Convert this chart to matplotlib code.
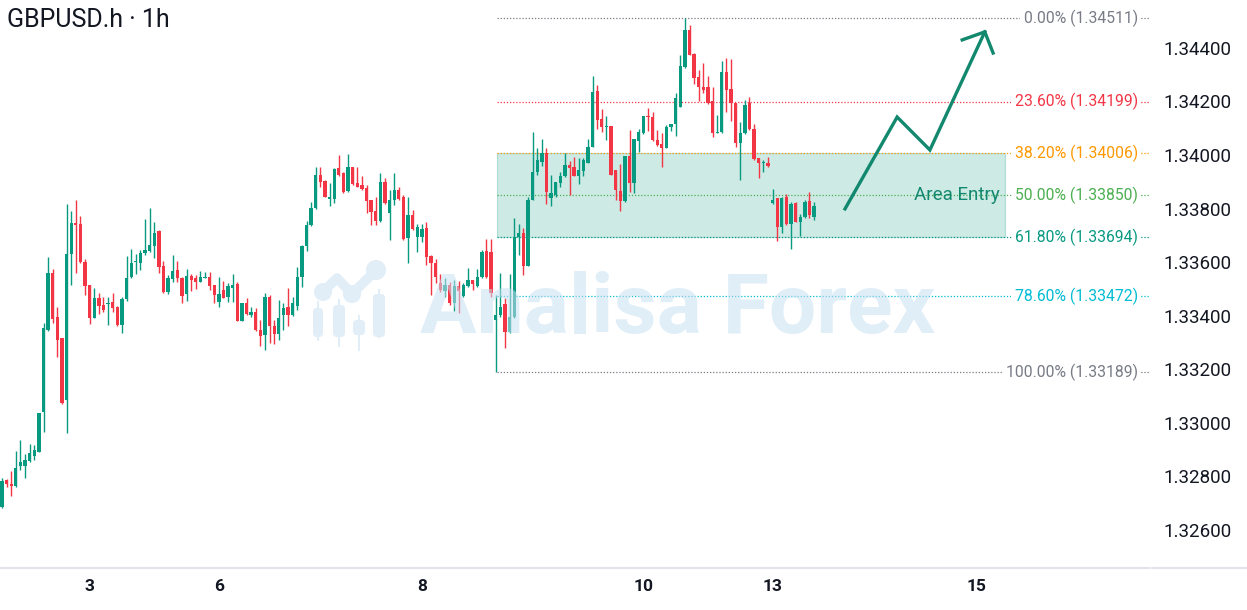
import matplotlib
matplotlib.use('Agg')
import matplotlib.pyplot as plt
import matplotlib.transforms as mtransforms
from matplotlib.patches import Rectangle, FancyBboxPatch, Circle
from matplotlib.lines import Line2D
import numpy as np

plt.rcParams['font.family'] = ['Roboto', 'DejaVu Sans']

# candles GBPUSD.h 1h
opens = [
    1.32685, 1.32785, 1.32770, 1.32763, 1.32838, 1.32838, 1.32856, 1.32875, 1.32893, 1.33040,
    1.33346, 1.33559, 1.33394, 1.33316, 1.33084, 1.33630, 1.33746, 1.33742, 1.33600, 1.33514,
    1.33391, 1.33465, 1.33439, 1.33443, 1.33450, 1.33432, 1.33364, 1.33462, 1.33544, 1.33600,
    1.33596, 1.33634, 1.33641, 1.33660, 1.33716, 1.33585, 1.33488, 1.33536, 1.33570, 1.33540,
    1.33480, 1.33548, 1.33540, 1.33525, 1.33540, 1.33544, 1.33514, 1.33450, 1.33495, 1.33469,
    1.33503, 1.33518, 1.33379, 1.33447, 1.33402, 1.33413, 1.33346, 1.33327, 1.33469, 1.33361,
    1.33331, 1.33402, 1.33432, 1.33402, 1.33435, 1.33544, 1.33660, 1.33738, 1.33802, 1.33925,
    1.33902, 1.33835, 1.33835, 1.33951, 1.33932, 1.33865, 1.33955, 1.33895, 1.33887, 1.33876,
    1.33832, 1.33790, 1.33753, 1.33899, 1.33783, 1.33832, 1.33869, 1.33843, 1.33690, 1.33775,
    1.33693, 1.33693, 1.33727, 1.33622, 1.33596, 1.33521, 1.33491, 1.33514, 1.33447, 1.33510,
    1.33473, 1.33510, 1.33533, 1.33510, 1.33544, 1.33641, 1.33637, 1.33383, 1.33402, 1.33443,
    1.33338, 1.33394, 1.33693, 1.33708, 1.33585, 1.33832, 1.33936, 1.33973, 1.34007, 1.33839,
    1.33850, 1.33895, 1.33921, 1.33962, 1.33955, 1.33921, 1.33940, 1.33970, 1.34029, 1.34239,
    1.34134, 1.34104, 1.34108, 1.33944, 1.33865, 1.33828, 1.33996, 1.33895, 1.34052, 1.34082,
    1.34145, 1.34142, 1.34056, 1.34041, 1.34026, 1.34104, 1.34116, 1.34179, 1.34329, 1.34467,
    1.34377, 1.34291, 1.34254, 1.34254, 1.34201, 1.34082, 1.34086, 1.34310, 1.34246, 1.34194,
    1.34044, 1.34082, 1.34194, 1.34097, 1.33988, 1.33970, 1.33970, 1.33820, 1.33839, 1.33731,
    1.33843, 1.33742, 1.33820, 1.33749, 1.33768, 1.33828, 1.33768,
]
highs = [
    1.32793, 1.32789, 1.32819, 1.32894, 1.32935, 1.32882, 1.32920, 1.32916, 1.33036, 1.33372,
    1.33619, 1.33574, 1.33432, 1.33316, 1.33817, 1.33791, 1.33832, 1.33772, 1.33611, 1.33514,
    1.33503, 1.33484, 1.33469, 1.33469, 1.33484, 1.33435, 1.33469, 1.33622, 1.33649, 1.33630,
    1.33645, 1.33761, 1.33802, 1.33749, 1.33720, 1.33604, 1.33551, 1.33626, 1.33604, 1.33544,
    1.33574, 1.33555, 1.33551, 1.33566, 1.33563, 1.33563, 1.33514, 1.33544, 1.33529, 1.33521,
    1.33555, 1.33525, 1.33447, 1.33465, 1.33432, 1.33428, 1.33383, 1.33484, 1.33477, 1.33383,
    1.33458, 1.33447, 1.33503, 1.33469, 1.33581, 1.33664, 1.33753, 1.33824, 1.33955, 1.33955,
    1.33906, 1.33895, 1.33951, 1.33999, 1.33936, 1.34003, 1.33955, 1.33955, 1.33921, 1.33887,
    1.33832, 1.33843, 1.33932, 1.33914, 1.33869, 1.33932, 1.33880, 1.33850, 1.33843, 1.33794,
    1.33742, 1.33742, 1.33750, 1.33626, 1.33611, 1.33555, 1.33540, 1.33525, 1.33533, 1.33529,
    1.33521, 1.33578, 1.33533, 1.33574, 1.33645, 1.33686, 1.33686, 1.33477, 1.33559, 1.33465,
    1.33555, 1.33764, 1.33742, 1.33727, 1.33843, 1.34086, 1.34026, 1.34059, 1.34026, 1.33925,
    1.33899, 1.33936, 1.34007, 1.33977, 1.33992, 1.33988, 1.33988, 1.34059, 1.34295, 1.34261,
    1.34172, 1.34145, 1.34108, 1.33944, 1.33966, 1.33996, 1.34093, 1.34059, 1.34097, 1.34145,
    1.34175, 1.34160, 1.34093, 1.34082, 1.34112, 1.34116, 1.34232, 1.34373, 1.34511, 1.34486,
    1.34381, 1.34317, 1.34344, 1.34295, 1.34254, 1.34149, 1.34351, 1.34362, 1.34358, 1.34194,
    1.34123, 1.34205, 1.34216, 1.34116, 1.33988, 1.33981, 1.33992, 1.33873, 1.33839, 1.33843,
    1.33854, 1.33824, 1.33824, 1.33779, 1.33832, 1.33861, 1.33824,
]
lows = [
    1.32681, 1.32759, 1.32726, 1.32759, 1.32823, 1.32793, 1.32853, 1.32860, 1.32893, 1.32965,
    1.33342, 1.33372, 1.33245, 1.33069, 1.32961, 1.33514, 1.33559, 1.33596, 1.33477, 1.33368,
    1.33391, 1.33405, 1.33413, 1.33364, 1.33413, 1.33361, 1.33335, 1.33454, 1.33540, 1.33555,
    1.33570, 1.33626, 1.33637, 1.33615, 1.33559, 1.33484, 1.33480, 1.33525, 1.33525, 1.33447,
    1.33454, 1.33491, 1.33499, 1.33525, 1.33540, 1.33495, 1.33447, 1.33432, 1.33465, 1.33450,
    1.33450, 1.33379, 1.33379, 1.33402, 1.33394, 1.33342, 1.33286, 1.33271, 1.33297, 1.33293,
    1.33308, 1.33346, 1.33361, 1.33398, 1.33420, 1.33506, 1.33641, 1.33734, 1.33798, 1.33880,
    1.33843, 1.33809, 1.33820, 1.33921, 1.33858, 1.33861, 1.33887, 1.33880, 1.33869, 1.33783,
    1.33738, 1.33738, 1.33749, 1.33817, 1.33682, 1.33813, 1.33832, 1.33682, 1.33596, 1.33720,
    1.33637, 1.33675, 1.33589, 1.33477, 1.33521, 1.33488, 1.33469, 1.33439, 1.33417, 1.33409,
    1.33469, 1.33506, 1.33495, 1.33506, 1.33540, 1.33540, 1.33469, 1.33189, 1.33394, 1.33278,
    1.33335, 1.33391, 1.33626, 1.33551, 1.33585, 1.33832, 1.33925, 1.33959, 1.33817, 1.33809,
    1.33843, 1.33880, 1.33917, 1.33850, 1.33921, 1.33891, 1.33921, 1.33970, 1.34029, 1.34097,
    1.34086, 1.34056, 1.33925, 1.33832, 1.33790, 1.33824, 1.33862, 1.33858, 1.34011, 1.34078,
    1.34090, 1.34052, 1.34033, 1.33955, 1.34026, 1.34090, 1.34071, 1.34179, 1.34325, 1.34374,
    1.34265, 1.34201, 1.34231, 1.34190, 1.34067, 1.34082, 1.34082, 1.34160, 1.34127, 1.34029,
    1.33906, 1.34078, 1.34093, 1.33981, 1.33914, 1.33936, 1.33955, 1.33817, 1.33679, 1.33708,
    1.33738, 1.33648, 1.33749, 1.33697, 1.33764, 1.33764, 1.33757,
]
closes = [
    1.32782, 1.32770, 1.32763, 1.32830, 1.32853, 1.32860, 1.32889, 1.32897, 1.33036, 1.33354,
    1.33559, 1.33387, 1.33308, 1.33073, 1.33630, 1.33746, 1.33738, 1.33600, 1.33510, 1.33391,
    1.33465, 1.33435, 1.33420, 1.33447, 1.33428, 1.33364, 1.33462, 1.33540, 1.33596, 1.33604,
    1.33634, 1.33645, 1.33664, 1.33708, 1.33581, 1.33488, 1.33540, 1.33566, 1.33540, 1.33473,
    1.33548, 1.33533, 1.33525, 1.33544, 1.33544, 1.33510, 1.33477, 1.33480, 1.33465, 1.33510,
    1.33514, 1.33379, 1.33447, 1.33405, 1.33413, 1.33346, 1.33323, 1.33469, 1.33361, 1.33331,
    1.33391, 1.33428, 1.33402, 1.33447, 1.33544, 1.33660, 1.33738, 1.33802, 1.33925, 1.33899,
    1.33843, 1.33843, 1.33947, 1.33925, 1.33861, 1.33955, 1.33891, 1.33880, 1.33873, 1.33828,
    1.33787, 1.33753, 1.33899, 1.33820, 1.33832, 1.33869, 1.33835, 1.33686, 1.33775, 1.33723,
    1.33731, 1.33723, 1.33619, 1.33596, 1.33544, 1.33495, 1.33514, 1.33447, 1.33510, 1.33491,
    1.33514, 1.33533, 1.33518, 1.33544, 1.33637, 1.33544, 1.33484, 1.33402, 1.33432, 1.33338,
    1.33394, 1.33693, 1.33708, 1.33585, 1.33832, 1.33936, 1.33981, 1.34007, 1.33861, 1.33858,
    1.33899, 1.33921, 1.33962, 1.33951, 1.33921, 1.33944, 1.33981, 1.34029, 1.34235, 1.34131,
    1.34104, 1.34108, 1.33925, 1.33869, 1.33828, 1.33996, 1.33895, 1.34059, 1.34086, 1.34145,
    1.34142, 1.34056, 1.34037, 1.34026, 1.34104, 1.34116, 1.34213, 1.34332, 1.34467, 1.34374,
    1.34287, 1.34254, 1.34243, 1.34194, 1.34082, 1.34086, 1.34310, 1.34243, 1.34194, 1.34044,
    1.34082, 1.34187, 1.34097, 1.33985, 1.33970, 1.33973, 1.33958, 1.33832, 1.33731, 1.33839,
    1.33742, 1.33817, 1.33749, 1.33768, 1.33824, 1.33775, 1.33809,
]

# x axis: day labels and the candle index they sit on
day_labels = ['3', '6', '8', '10', '13', '15']
day_pos = [19, 47, 91, 139, 167, 211.3]

price_ticks = [1.326, 1.328, 1.330, 1.332, 1.334, 1.336, 1.338, 1.340, 1.342, 1.344]

# fibonacci retracement drawn from the low candle
fib_pct = [0.0, 23.6, 38.2, 50.0, 61.8, 78.6, 100.0]
fib_levels = [1.34511, 1.34199, 1.34006, 1.33850, 1.33694, 1.33472, 1.33189]
fib_colors = ['#787b86', '#f23645', '#ff9800', '#4caf50', '#089981', '#00bcd4', '#787b86']

# hand drawn arrow (candle index, price)
arrow_x = [182.7, 194.0, 201.1, 213.0]
arrow_y = [1.33799, 1.34142, 1.34019, 1.34460]
head_x = [208.1, 213.0, 214.8]
head_y = [1.34430, 1.34460, 1.34381]

GREEN = '#089981'
RED = '#f23645'
TXT = '#131722'

W, H = 1247, 610
fig = plt.figure(figsize=(W / 100, H / 100), dpi=100)
ax = fig.add_axes([0, 42 / H, 1150 / W, 568 / H])
XMAX = 248.8
ax.set_xlim(-0.43, XMAX)
ax.set_ylim(1.32458, 1.34579)

# candles
x = np.arange(len(closes))
o, h, l, c = (np.array(v) for v in (opens, highs, lows, closes))
cols = np.where(c >= o, GREEN, RED)
ax.vlines(x, l, h, colors=cols, lw=1.0, zorder=3)
ax.bar(x, np.maximum(np.abs(c - o), 0.00004), bottom=np.minimum(o, c),
       width=0.72, color=cols, lw=0, zorder=3)

# fib levels + entry zone
fib_start = 107.3
zone_end = 217.4
ax.add_patch(Rectangle((fib_start, fib_levels[4]), zone_end - fib_start,
                       fib_levels[2] - fib_levels[4],
                       fc=(8 / 255, 153 / 255, 129 / 255, 0.2),
                       ec=(8 / 255, 153 / 255, 129 / 255, 0.25), lw=0.8, zorder=1))
for pct, lvl, col in zip(fib_pct, fib_levels, fib_colors):
    ax.hlines(lvl, fib_start, XMAX, colors=col, lw=0.9,
              linestyles=(0, (1, 1.5)), zorder=2)
    ax.text(246.2, lvl, f'{pct:.2f}% ({lvl:.5f})', color=col, fontsize=11.3,
            ha='right', va='center', zorder=6,
            bbox=dict(fc='white', ec='none', pad=2.5))

ax.text(216.3, fib_levels[3], 'Area Entry', color='#12886e', fontsize=13.5,
        ha='right', va='center', zorder=6)

# arrow
ax.plot(arrow_x, arrow_y, color='#12886e', lw=2.4, solid_joinstyle='miter', zorder=6)
ax.plot(head_x, head_y, color='#12886e', lw=2.4, solid_joinstyle='miter', zorder=6)

# watermark, placed in pixel coords (y from top)
px = mtransforms.Affine2D().scale(1 / W, -1 / H).translate(0, 1) + fig.transFigure
wm = '#e1eef8'
for bx, by, bw, bh in [(313, 308, 10, 29), (333, 305, 12, 32), (353, 320, 12, 15), (373, 294, 12, 43)]:
    ax.add_patch(FancyBboxPatch((bx, by), bw, bh, boxstyle='round,pad=0,rounding_size=4',
                                fc=wm, ec='none', transform=px, clip_on=False, zorder=1.5))
for wx, y0, y1 in [(318, 302, 340), (339, 300, 346), (359, 316, 350), (379, 290, 337)]:
    ax.add_line(Line2D([wx, wx], [y0, y1], color=wm, lw=1.5, transform=px, zorder=1.5))
ax.add_line(Line2D([323, 337, 352, 376], [292, 278, 294, 270], color=wm, lw=7,
                   solid_capstyle='round', solid_joinstyle='round', transform=px, zorder=1.5))
for cx, cy, r in [(323, 292, 9), (352, 294, 9), (376, 270, 10)]:
    ax.add_patch(Circle((cx, cy), r, fc=wm, ec='none', transform=px, zorder=1.5))
wtxt = ax.text(420, 333, 'Analisa Forex', transform=px, fontsize=56, fontweight='bold',
               color='#c8e0f2', alpha=0.55, ha='left', va='baseline', zorder=4)
fig.canvas.draw()
wtxt.set_fontsize(56 * 515 / wtxt.get_window_extent().width)

# axes styling
for s in ax.spines.values():
    s.set_visible(False)
ax.yaxis.tick_right()
ax.set_yticks(price_ticks)
ax.set_yticklabels([f'{v:.5f}' for v in price_ticks])
ax.tick_params(axis='y', length=0, pad=9.4, labelsize=13.5, labelcolor=TXT)
ax.set_xticks(day_pos)
ax.set_xticklabels(day_labels, fontweight='bold')
ax.tick_params(axis='x', length=0, pad=8, labelsize=12.5, labelcolor=TXT)

fig.add_artist(Line2D([0, 1149 / W], [42 / H, 42 / H], transform=fig.transFigure,
                      color='#e0e3eb', lw=1.5))
fig.add_artist(Line2D([1152 / W, 1], [42 / H, 42 / H], transform=fig.transFigure,
                      color='#e0e3eb', lw=1.5))

fig.text(7 / W, 1 - 20 / H, 'GBPUSD.h · 1h', fontsize=18, color=TXT,
         ha='left', va='center')

fig.savefig('out.png', dpi=100)
